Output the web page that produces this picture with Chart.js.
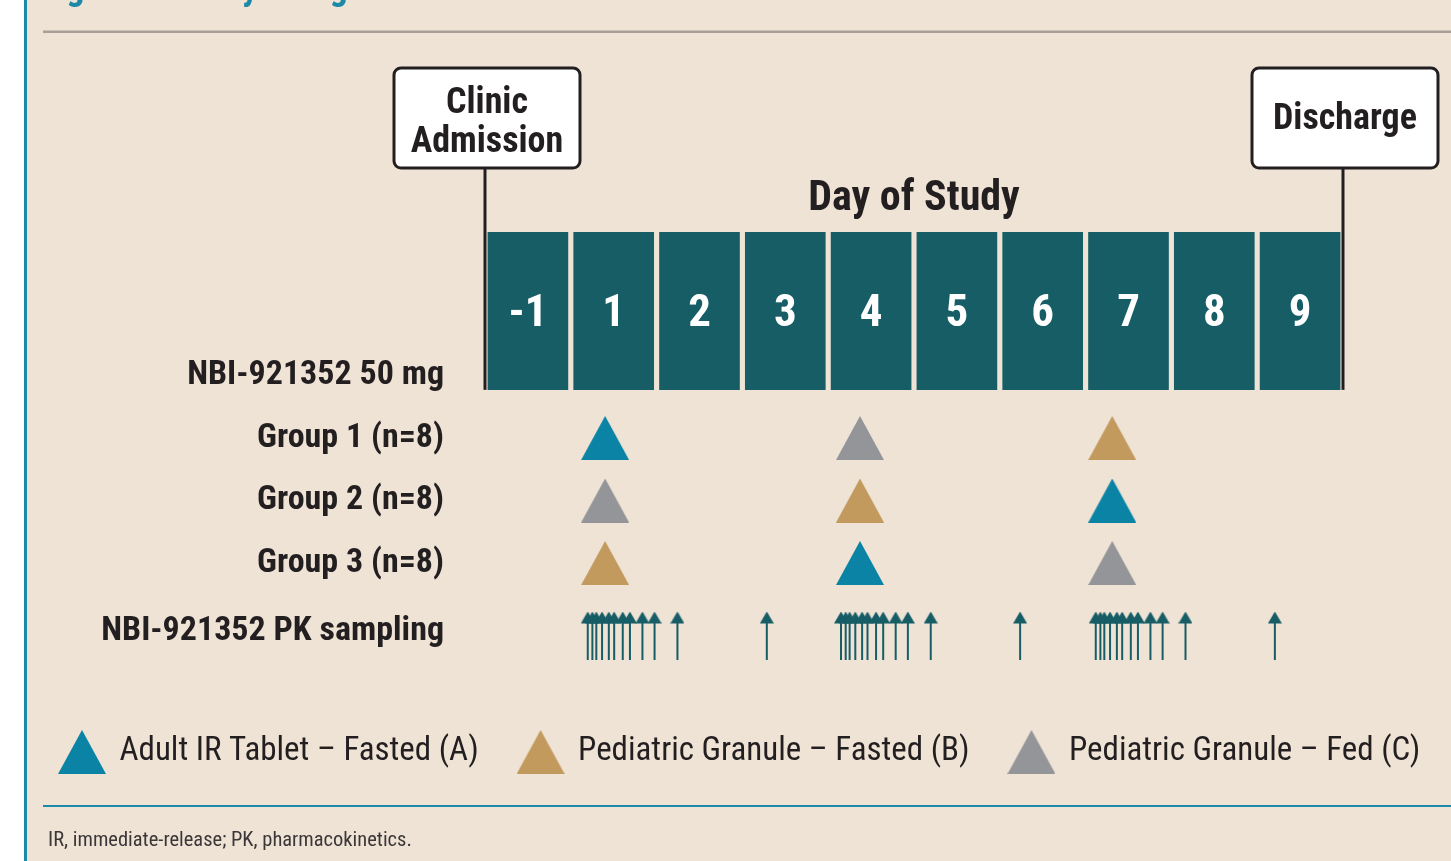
<!DOCTYPE html>
<html lang="en">
<head>
<meta charset="UTF-8">
<title>Study Design</title>
<script src="https://cdn.jsdelivr.net/npm/chart.js"></script>
<style>
  html, body { margin: 0; padding: 0; background: #fff; }
</style>
</head>
<body>
<canvas id="studyChart" width="1451" height="861"></canvas>
<script>
// days on the timeline
const dayLabels = ['-1', '1', '2', '3', '4', '5', '6', '7', '8', '9'];

// rows on the left side
const rowLabels = ['NBI-921352 50 mg', 'Group 1 (n=8)', 'Group 2 (n=8)', 'Group 3 (n=8)', 'NBI-921352 PK sampling'];
const rowPos = [0, 1, 2, 3, 4.1];

// treatments
const treatmentCodes = ['A', 'B', 'C'];
const treatmentNames = ['Adult IR Tablet – Fasted (A)', 'Pediatric Granule – Fasted (B)', 'Pediatric Granule – Fed (C)'];

// dosing sequence of each group, one code per period
const sequences = [
  ['A', 'C', 'B'],
  ['C', 'B', 'A'],
  ['B', 'A', 'C']
];

// dose time of each period (study-day units counted from the start of day -1)
const doseTimes = [1.40, 4.37, 7.31];

// first PK sample of each period (same units) and the samples after it, in hours
const pkStart = [1.197, 4.149, 7.118];
const pkHours = [0, 1.3, 2.4, 4.0, 5.9, 7.4, 9.8, 11.8, 15.3, 18.7, 25.1, 50.1];

const condensed = "'Roboto Condensed', 'DejaVu Sans Condensed', 'Liberation Sans', sans-serif";
const ink = '#231f20';
const paper = '#efe3d6';
const teal = '#165d66';
const accent = '#1b89a8';
const colors = { A: '#0b83a4', B: '#c39a5d', C: '#939598' };

function triangleImg(color) {
  const c = document.createElement('canvas');
  c.width = 48; c.height = 44;
  const g = c.getContext('2d');
  g.fillStyle = color;
  g.beginPath();
  g.moveTo(24, 0); g.lineTo(48, 44); g.lineTo(0, 44);
  g.closePath();
  g.fill();
  return c;
}

function arrowImg(color) {
  const c = document.createElement('canvas');
  c.width = 14; c.height = 48;
  const g = c.getContext('2d');
  g.fillStyle = color;
  g.beginPath();
  g.moveTo(7, 0); g.lineTo(14, 12); g.lineTo(0, 12);
  g.closePath();
  g.fill();
  g.fillRect(6, 10, 2, 38);
  return c;
}

// day boxes
const dayData = dayLabels.map((d, i) => ({ x: i + 0.5, y: [-2.3, 0.23] }));

// one triangle dataset per treatment
const doseSets = treatmentCodes.map((code, t) => {
  const pts = [];
  sequences.forEach((seq, g) => {
    seq.forEach((c, p) => {
      if (c === code) pts.push({ x: doseTimes[p], y: g + 1 });
    });
  });
  return {
    type: 'scatter',
    label: treatmentNames[t],
    data: pts,
    pointStyle: triangleImg(colors[code]),
    backgroundColor: colors[code],
    borderWidth: 0,
    clip: false
  };
});

// PK sampling arrows
const pkData = [];
pkStart.forEach(s => {
  pkHours.forEach(h => pkData.push({ x: s + h / 24, y: 4.16 }));
});

const decor = {
  id: 'decor',
  beforeDraw(chart) {
    const { ctx, width, height } = chart;
    ctx.save();
    ctx.fillStyle = '#ffffff';
    ctx.fillRect(0, 0, width, height);
    ctx.fillStyle = paper;
    ctx.fillRect(27, 0, width - 27, height);
    ctx.fillStyle = accent;
    ctx.fillRect(24, 0, 3, height);
    // header rule
    ctx.fillStyle = '#a89f96';
    ctx.fillRect(43, 30.5, width - 43, 2.5);
    // footer rule
    ctx.fillStyle = accent;
    ctx.fillRect(43, 805, width - 43, 2);
    // heading, cut off at the top of the picture
    ctx.fillStyle = accent;
    ctx.font = 'bold 36px ' + condensed;
    ctx.textBaseline = 'alphabetic';
    ctx.fillText('Figure 1. Study Design', 40, -1);
    // footnote
    ctx.fillStyle = '#3b3637';
    ctx.font = '20.5px ' + condensed;
    ctx.fillText('IR, immediate-release; PK, pharmacokinetics.', 48, 846);
    ctx.restore();
  },
  afterDatasetsDraw(chart) {
    const { ctx, chartArea } = chart;
    const xs = chart.scales.x, ys = chart.scales.y;
    const meta = chart.getDatasetMeta(0);
    ctx.save();
    // day numbers in the boxes
    ctx.fillStyle = '#ffffff';
    ctx.font = 'bold 45px ' + condensed;
    ctx.textAlign = 'center';
    ctx.textBaseline = 'middle';
    meta.data.forEach((bar, i) => {
      const p = bar.getProps(['x', 'y', 'base'], true);
      ctx.fillText(dayLabels[i], p.x, (p.y + p.base) / 2 + 4);
    });

    // admission / discharge call-outs
    const boxBottom = chartArea.top - 64;
    const lineEnd = ys.getPixelForValue(0.23);
    const marks = [
      { x: xs.getPixelForValue(0), text: ['Clinic', 'Admission'] },
      { x: xs.getPixelForValue(10), text: ['Discharge'] }
    ];
    marks.forEach(m => {
      ctx.strokeStyle = ink;
      ctx.lineWidth = 3;
      ctx.beginPath();
      ctx.moveTo(m.x, boxBottom);
      ctx.lineTo(m.x, lineEnd);
      ctx.stroke();
      const bx = m.x + 2 - 93, by = boxBottom - 100;
      ctx.beginPath();
      ctx.roundRect(bx, by, 186, 100, 7);
      ctx.fillStyle = '#ffffff';
      ctx.fill();
      ctx.stroke();
      ctx.fillStyle = ink;
      ctx.font = 'bold 36px ' + condensed;
      const cx = m.x + 2, cy = by + 50;
      if (m.text.length === 2) {
        ctx.fillText(m.text[0], cx, cy - 14);
        ctx.fillText(m.text[1], cx, cy + 25);
      } else {
        ctx.fillText(m.text[0], cx, cy + 2);
      }
    });
    ctx.restore();
  }
};

new Chart(document.getElementById('studyChart'), {
  type: 'bar',
  data: {
    datasets: [
      {
        type: 'bar',
        label: 'Day of Study',
        data: dayData,
        backgroundColor: teal,
        barPercentage: 0.94,
        categoryPercentage: 1
      },
      ...doseSets,
      {
        type: 'scatter',
        label: 'PK sampling',
        data: pkData,
        pointStyle: arrowImg(teal),
        backgroundColor: teal,
        clip: false
      }
    ]
  },
  options: {
    responsive: false,
    animation: false,
    events: [],
    layout: { padding: { left: 49, right: 0, top: 174.6, bottom: 82.5 } },
    plugins: {
      tooltip: { enabled: false },
      legend: {
        position: 'bottom',
        align: 'start',
        labels: {
          generateLabels: chart => {
            const items = Chart.defaults.plugins.legend.labels.generateLabels(chart)
              .filter(it => it.datasetIndex >= 1 && it.datasetIndex <= 3);
            // keep a gap after every item but the last
            items.forEach((it, i) => { if (i < items.length - 1) it.text += '\u2003'; });
            return items;
          },
          usePointStyle: true,
          pointStyleWidth: 42,
          padding: 12,
          color: ink,
          font: { family: condensed, size: 33 }
        }
      }
    },
    scales: {
      x: {
        type: 'linear',
        position: 'top',
        min: 0,
        max: 10,
        offset: false,
        grid: { display: false, drawTicks: false },
        border: { display: false },
        ticks: { display: false },
        title: {
          display: true,
          text: 'Day of Study',
          color: ink,
          font: { family: condensed, weight: 'bold', size: 42 },
          padding: { top: 0, bottom: 7 }
        }
      },
      y: {
        type: 'linear',
        reverse: true,
        min: -2.296,
        max: 5.568,
        grid: { display: false, drawTicks: false },
        border: { display: false },
        afterBuildTicks: s => { s.ticks = rowPos.map(v => ({ value: v })); },
        afterFit: s => { s.width = 436; },
        ticks: {
          autoSkip: false,
          padding: 41,
          color: ink,
          font: { family: condensed, weight: 'bold', size: 34 },
          callback: (v, i) => rowLabels[i]
        }
      },
      // empty axis on the right that keeps the timeline clear of the edge
      y2: {
        type: 'linear',
        position: 'right',
        grid: { display: false, drawTicks: false },
        border: { display: false },
        ticks: { display: false },
        afterFit: s => { s.width = 108; }
      }
    }
  },
  plugins: [decor]
});
</script>
</body>
</html>
